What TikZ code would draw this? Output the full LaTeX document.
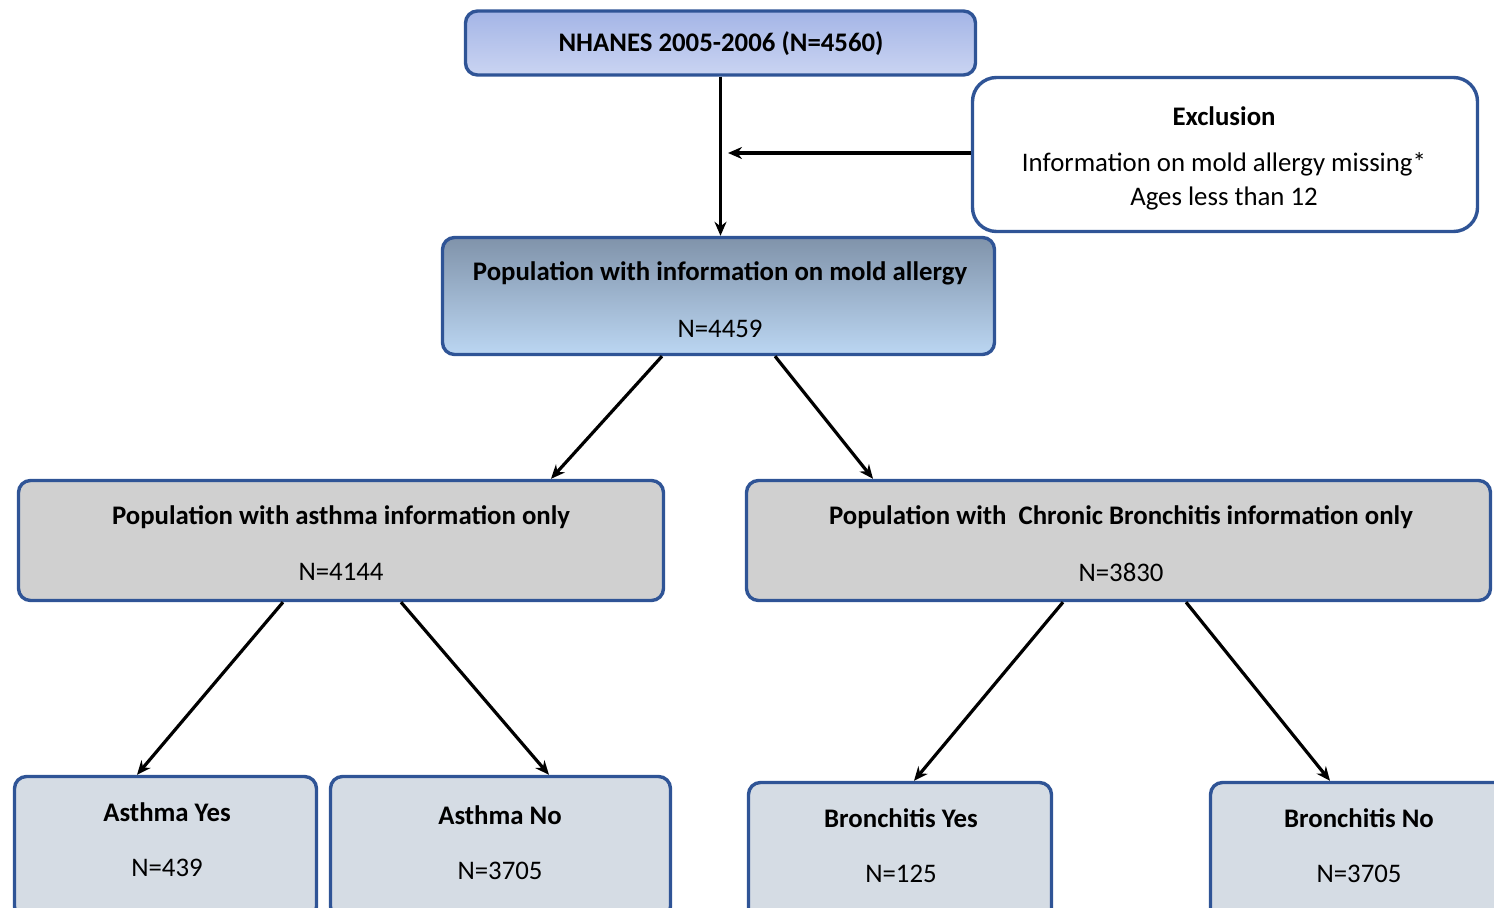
\documentclass[tikz,border=0pt]{standalone}
\usepackage{fontspec}
\setmainfont{Carlito}
\usetikzlibrary{arrows.meta,calc}
\definecolor{bord}{HTML}{2F5496}
\definecolor{topA}{HTML}{A4B5E6}
\definecolor{topB}{HTML}{CAD4F2}
\definecolor{midA}{HTML}{8093AA}
\definecolor{midB}{HTML}{BBD6F2}
\definecolor{grayf}{HTML}{D0D0D0}
\definecolor{leaf}{HTML}{D5DCE4}
\begin{document}
\begin{tikzpicture}[x=0.5pt,y=-0.5pt,
  box/.style={draw=bord, line width=1.7pt, rounded corners=6pt, inner sep=0pt},
  arr/.style={-{Stealth[length=7pt,width=6pt]}, line width=1.6pt},
  ttl/.style={font=\bfseries\fontsize{13.4}{16}\selectfont, inner sep=0pt},
  num/.style={font=\fontsize{13.4}{16}\selectfont, inner sep=0pt}]
\useasboundingbox (0,0) rectangle (1494,908);
\clip (0,0) rectangle (1494,908);
% boxes
\node[box, top color=topA, bottom color=topB, minimum width=255pt, minimum height=32pt] (top) at (720.5,43) {};
\node[box, fill=white, rounded corners=12pt, minimum width=252.5pt, minimum height=77pt] (excl) at (1225,154.5) {};
\node[box, top color=midA, bottom color=midB, minimum width=276pt, minimum height=58.5pt] (mid) at (718.5,296) {};
\node[box, fill=grayf, minimum width=322.5pt, minimum height=60pt] (gl) at (341,540.5) {};
\node[box, fill=grayf, minimum width=372pt, minimum height=60pt] (gr) at (1118.5,540.5) {};
\node[box, fill=leaf, minimum width=151pt, minimum height=71pt] (ay) at (165.5,847.5) {};
\node[box, fill=leaf, minimum width=170pt, minimum height=71pt] (an) at (500.5,847.5) {};
\node[box, fill=leaf, minimum width=151.5pt, minimum height=71pt] (by) at (900,853.5) {};
\node[box, fill=leaf, minimum width=154pt, minimum height=71pt] (bn) at (1364.5,853.5) {};
% texts
\node[ttl] (ttop) at (721,44) {NHANES 2005-2006 (N=4560)};
\node[ttl] (texA) at (1224,116) {Exclusion};
\node[num] (texB) at (1224,164) {Information on mold allergy missing*};
\node[num] (texC) at (1224,199) {Ages less than 12};
\node[ttl] (tmidA) at (720,273) {Population with information on mold allergy};
\node[num] (tmidB) at (720,329) {N=4459};
\node[ttl] (tglA) at (341,517) {Population with asthma information only};
\node[num] (tglB) at (341,572) {N=4144};
\node[ttl] (tgrA) at (1121,517) {Population with\ \ Chronic Bronchitis information only};
\node[num] (tgrB) at (1121,572) {N=3830};
\node[ttl] (tayA) at (167,812) {Asthma Yes};
\node[num] (tayB) at (167,868) {N=439};
\node[ttl] (tanA) at (500,815) {Asthma No};
\node[num] (tanB) at (500,871) {N=3705};
\node[ttl] (tbyA) at (901,818) {Bronchitis Yes};
\node[num] (tbyB) at (901,874) {N=125};
\node[ttl] (tbnA) at (1359,818) {Bronchitis No};
\node[num] (tbnB) at (1359,874) {N=3705};
% connectors
\coordinate (join) at (728,153);
\draw[arr] (top.south) -- (top.south |- mid.north);
\draw[arr] (excl.west |- join) -- (join);
\draw[arr] ([xshift=-28.25pt]mid.south) -- ([xshift=105pt]gl.north);
\draw[arr] ([xshift=28.25pt]mid.south) -- ([xshift=-122.75pt]gr.north);
\draw[arr] ([xshift=-29pt]gl.south) -- ([xshift=-14.25pt]ay.north);
\draw[arr] ([xshift=30pt]gl.south) -- ([xshift=24.25pt]an.north);
\draw[arr] ([xshift=-27.75pt]gr.south) -- ([xshift=7pt]by.north);
\draw[arr] ([xshift=33.75pt]gr.south) -- ([xshift=-17.25pt]bn.north);
\end{tikzpicture}
\end{document}
